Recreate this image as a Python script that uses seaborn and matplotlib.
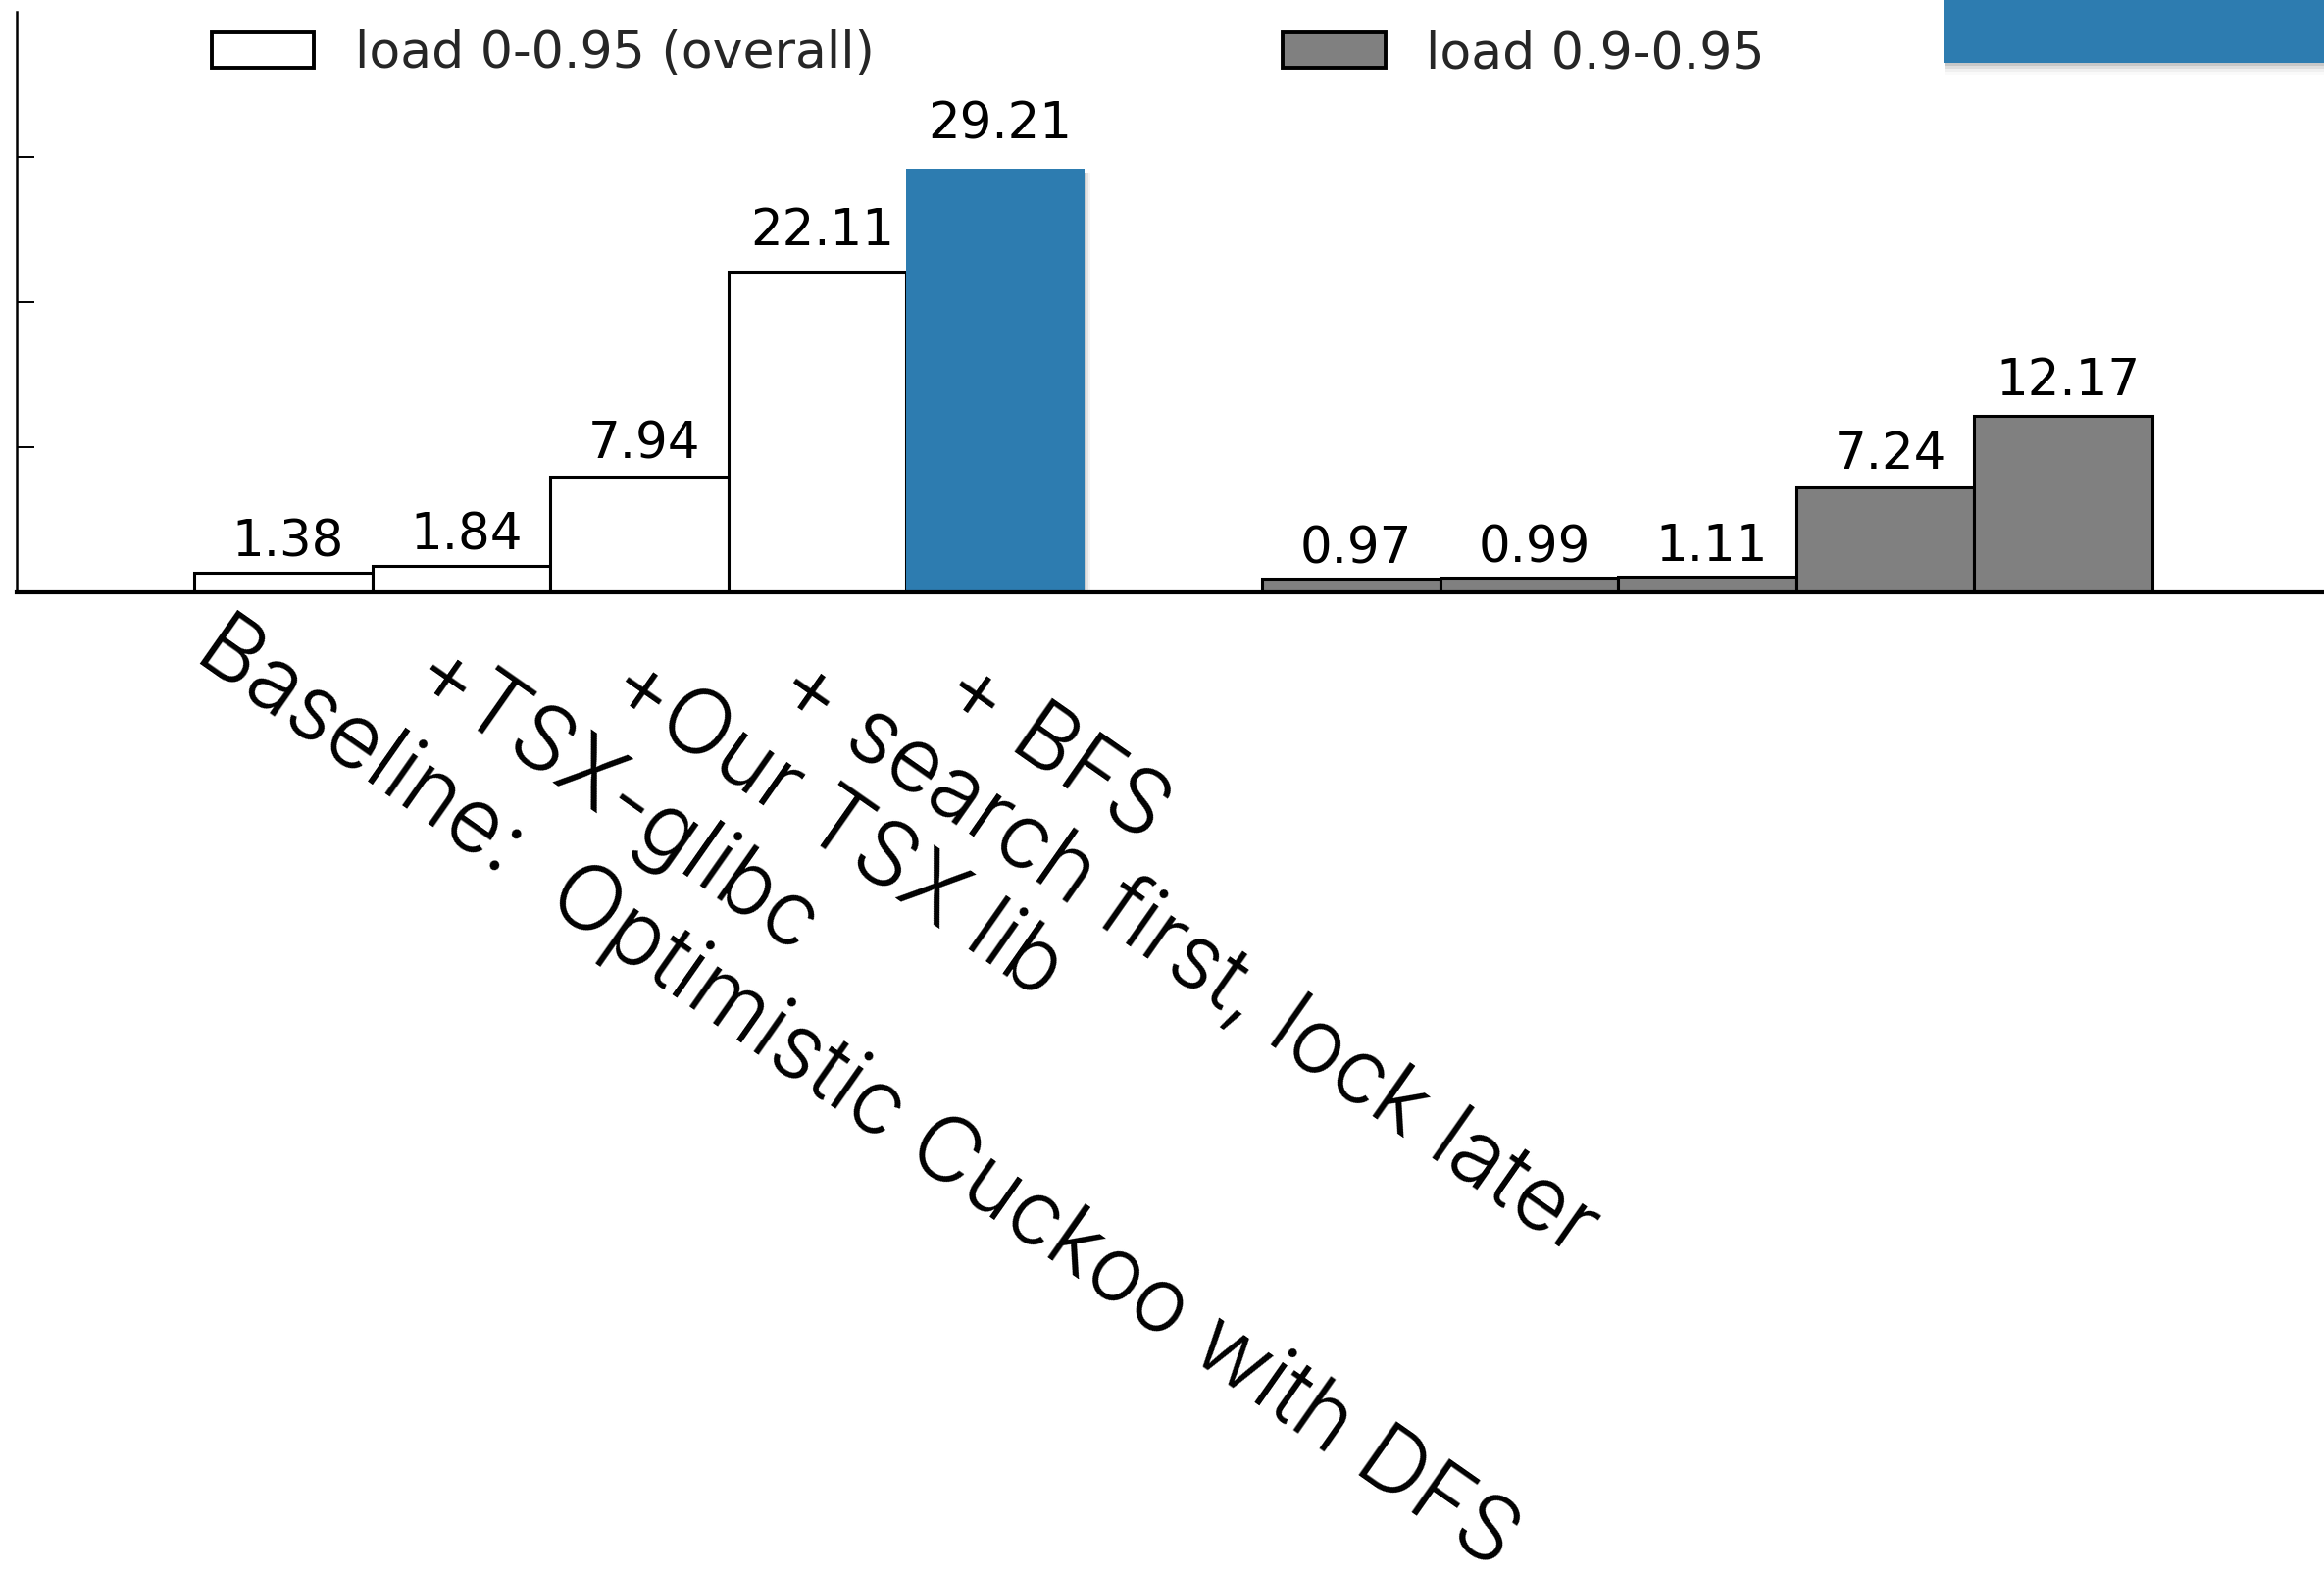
import numpy as np
import pandas as pd
import matplotlib
matplotlib.use("Agg")
import matplotlib.pyplot as plt
from matplotlib.patches import Patch, Rectangle
import seaborn as sns

# Speed-up of each optimisation step, two load ranges
steps = [
    "Baseline:  Optimistic Cuckoo with DFS",
    "+TSX-glibc",
    "+Our TSX lib",
    "+ search first, lock later",
    "+ BFS",
]
overall = [1.38, 1.84, 7.94, 22.11, 29.21]
high_load = [0.97, 0.99, 1.11, 7.24, 12.17]
series_names = ["load 0-0.95 (overall)", "load 0.9-0.95"]

WHITE = "#ffffff"
GRAY = "#808080"
BLUE = "#2d7cb0"

sns.set_theme(style="white")
plt.rcParams["font.family"] = ["DejaVu Sans"]

n = len(steps)
left_pos = np.arange(n) + 1.5            # first group after one empty slot
right_pos = left_pos + n + 1             # second group after a one-bar gap

df = pd.DataFrame({
    "pos": np.concatenate([left_pos, right_pos]),
    "speedup": overall + high_load,
    "series": [series_names[0]] * n + [series_names[1]] * n,
})

DPI = 100
fig = plt.figure(figsize=(23.70, 16.04), dpi=DPI)
W, H = 2370, 1604
ax = fig.add_axes([16.8 / W, 1 - 604 / H, 13 * 181.5 / W, 592 / H])

sns.barplot(
    data=df, x="pos", y="speedup", hue="series",
    palette={series_names[0]: WHITE, series_names[1]: GRAY},
    native_scale=True, width=1.0, dodge=False,
    edgecolor="black", linewidth=2.2, legend=False, ax=ax,
)

ax.set_xlim(0, 13)
ax.set_ylim(0, 40)
ax.set_yticks([0, 10, 20, 30])
ax.tick_params(axis="y", direction="in", length=13, width=1.4,
               color="black", labelleft=False, left=True)
ax.set_xticks([])
ax.set_xlabel("")
ax.set_ylabel("")
for side in ("top", "right"):
    ax.spines[side].set_visible(False)
ax.spines["left"].set_linewidth(1.8)
ax.spines["left"].set_color("black")
ax.spines["bottom"].set_linewidth(3.0)
ax.spines["bottom"].set_color("black")
ax.spines["bottom"].set_zorder(5)

# highlight the final step of the overall series
bars = sorted(ax.patches, key=lambda p: p.get_x())
hl = bars[n - 1]
hl.set_facecolor(BLUE)
hl.set_linewidth(0)
hl.set_zorder(3)
x0, w0, h0 = hl.get_x(), hl.get_width(), hl.get_height()
for k, a in enumerate([0.10, 0.07, 0.04]):
    ax.add_patch(Rectangle((x0 + w0, 0), 0.012 * (k + 1), h0 - 0.3,
                           facecolor="black", alpha=a, linewidth=0, zorder=2))

# value labels above bars
for p, v in zip(df["pos"], df["speedup"]):
    ax.annotate(f"{v:.2f}", xy=(p, v * 1.035), xytext=(5, 15),
                textcoords="offset pixels", ha="center", va="baseline",
                fontsize=37, color="black")

# rotated step names under the first group (hand-placed offsets)
label_offsets = [(-54, -12), (-16, -40), (3, -49), (-8, -51), (-20, -53)]
for p, name, (dx, dy) in zip(left_pos, steps, label_offsets):
    ax.annotate(name, xy=(p, 0), xycoords=("data", "axes fraction"),
                xytext=(dx, dy), textcoords="offset pixels",
                rotation=-35, rotation_mode="anchor", ha="left", va="top",
                fontsize=66, family=["Inter", "DejaVu Sans"],
                fontweight=300, color="black")

handles = [Patch(facecolor=WHITE, edgecolor="black", linewidth=2.8),
           Patch(facecolor=GRAY, edgecolor="black", linewidth=2.8)]
fig.legend(handles, series_names, loc="center left",
           bbox_to_anchor=(216 / W, 1 - 55 / H), ncol=2, frameon=False,
           fontsize=37.5, borderpad=0, borderaxespad=0, handlelength=2.0,
           handleheight=0.7, handletextpad=0.8, columnspacing=8.0)

# blue banner in the top-right corner with a soft drop shadow
bx0, by0 = 1982 / W, 1 - 64 / H
for k, a in enumerate([0.10, 0.07, 0.04, 0.02]):
    fig.add_artist(Rectangle((bx0 + 0.001, by0 - (k + 1) * 3 / H), 1 - bx0,
                             (k + 1) * 3 / H + 0.001, transform=fig.transFigure,
                             facecolor="black", alpha=a, linewidth=0))
fig.add_artist(Rectangle((bx0, by0), 1 - bx0, 1 - by0,
                         transform=fig.transFigure, facecolor=BLUE,
                         linewidth=0))

fig.savefig("out.png", dpi=DPI)
